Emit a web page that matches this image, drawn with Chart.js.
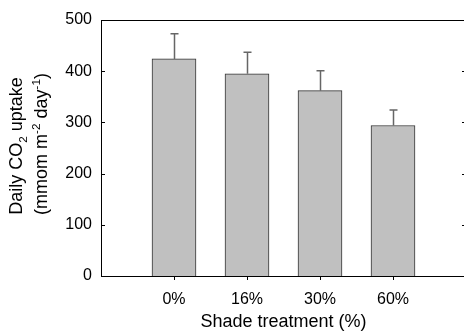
<!DOCTYPE html>
<html>
<head>
<meta charset="utf-8">
<script src="https://cdn.jsdelivr.net/npm/chart.js@4/dist/chart.umd.min.js"></script>
<style>
html, body { margin: 0; padding: 0; overflow: hidden; background: #fff; }
#wrap { width: 470px; height: 333px; position: relative; }
</style>
</head>
<body>
<div id="wrap"><canvas id="c"></canvas></div>
<script>
// ---- data ----
const categories = ['0%', '16%', '30%', '60%'];
const uptake = [424, 395, 362, 294];
const uptakeSE = [49, 42, 39, 30];
const yTicks = [0, 100, 200, 300, 400, 500];
const xTitle = 'Shade treatment (%)';
const yTitleLine1 = [['Daily CO', 'n'], ['2', 'sub'], [' uptake', 'n']];
const yTitleLine2 = [['(mmom m', 'n'], ['-2', 'sup'], [' day', 'n'], ['-1', 'sup'], [')', 'n']];

const FONT = '"Liberation Sans", Arial, sans-serif';

const framePlugin = {
  id: 'frame',
  afterDatasetsDraw(chart) {
    const {ctx, chartArea: a, scales: {y}} = chart;
    ctx.save();
    ctx.strokeStyle = '#000';
    ctx.lineWidth = 1;
    ctx.beginPath();
    ctx.moveTo(a.left, a.top + 0.5); ctx.lineTo(a.right, a.top + 0.5);
    ctx.moveTo(a.right - 0.5, a.top); ctx.lineTo(a.right - 0.5, a.bottom);
    yTicks.forEach(v => {
      const py = Math.round(y.getPixelForValue(v)) + 0.5;
      ctx.moveTo(a.left, py); ctx.lineTo(a.left + 4, py);
      ctx.moveTo(a.right - 4, py); ctx.lineTo(a.right, py);
    });
    ctx.stroke();
    ctx.restore();
  }
};

const errorPlugin = {
  id: 'errbars',
  afterDatasetsDraw(chart) {
    const {ctx, scales: {y}} = chart;
    const meta = chart.getDatasetMeta(0);
    ctx.save();
    ctx.strokeStyle = '#666';
    ctx.lineWidth = 1.5;
    meta.data.forEach((bar, i) => {
      const x = Math.round(bar.x) + 0.5;
      const yTop = y.getPixelForValue(uptake[i] + uptakeSE[i]);
      const yBase = y.getPixelForValue(uptake[i]);
      ctx.beginPath();
      ctx.moveTo(x, yBase); ctx.lineTo(x, yTop);
      ctx.moveTo(x - 4, yTop); ctx.lineTo(x + 4, yTop);
      ctx.stroke();
    });
    ctx.restore();
  }
};

function drawRich(ctx, parts, size) {
  let total = 0;
  const items = parts.map(([t, k]) => {
    const s = k === 'n' ? size : size * 0.65;
    ctx.font = s + 'px ' + FONT;
    const w = ctx.measureText(t).width;
    total += w;
    return {t, k, s, w};
  });
  let x = -total / 2;
  items.forEach(it => {
    ctx.font = it.s + 'px ' + FONT;
    let dy = 0;
    if (it.k === 'sub') dy = size * 0.28;
    if (it.k === 'sup') dy = -size * 0.4;
    ctx.fillText(it.t, x, dy);
    x += it.w;
  });
}

const yTitlePlugin = {
  id: 'ytitle',
  afterDraw(chart) {
    const {ctx, chartArea: a} = chart;
    const cy = (a.top + a.bottom) / 2 - 2;
    ctx.save();
    ctx.fillStyle = '#000';
    ctx.textBaseline = 'alphabetic';
    ctx.textAlign = 'left';
    ctx.translate(22, cy);
    ctx.rotate(-Math.PI / 2);
    drawRich(ctx, yTitleLine1, 18);
    ctx.restore();
    ctx.save();
    ctx.fillStyle = '#000';
    ctx.textBaseline = 'alphabetic';
    ctx.textAlign = 'left';
    ctx.translate(47, cy - 2);
    ctx.rotate(-Math.PI / 2);
    drawRich(ctx, yTitleLine2, 18);
    ctx.restore();
  }
};

new Chart(document.getElementById('c'), {
  type: 'bar',
  data: {
    datasets: [{
      data: categories.map((c, i) => ({x: i + 1, y: uptake[i]})),
      backgroundColor: '#c0c0c0',
      borderColor: '#333',
      borderWidth: 1,
      barThickness: 44
    }]
  },
  options: {
    responsive: true,
    maintainAspectRatio: false,
    animation: false,
    layout: { padding: { left: 0, top: 20, right: 4, bottom: 0 } },
    plugins: { legend: { display: false }, tooltip: { enabled: false } },
    scales: {
      x: {
        type: 'linear',
        offset: false,
        min: 0, max: categories.length + 1,
        afterBuildTicks(scale) {
          scale.ticks = categories.map((c, i) => ({value: i + 1}));
        },
        afterFit(scale) { scale.height = 57; },
        ticks: {
          autoSkip: false, maxRotation: 0,
          callback: (v) => categories[v - 1] ?? '',
          color: '#000', font: { family: FONT, size: 16 }, padding: 10
        },
        grid: { display: true, offset: false, drawOnChartArea: false, drawTicks: true, tickLength: 4, color: '#000' },
        border: { display: true, color: '#000', width: 1 },
        title: { display: true, text: xTitle, color: '#000', font: { family: FONT, size: 18 }, padding: { top: 0, bottom: 0 } }
      },
      y: {
        min: 0, max: 500,
        afterBuildTicks(scale) { scale.ticks = yTicks.map(v => ({value: v})); },
        afterFit(scale) { scale.width = 101; },
        ticks: { color: '#000', font: { family: FONT, size: 16 }, padding: 9 },
        grid: { display: false, drawTicks: false },
        border: { display: true, color: '#000', width: 1 }
      }
    }
  },
  plugins: [framePlugin, errorPlugin, yTitlePlugin]
});
</script>
</body>
</html>
